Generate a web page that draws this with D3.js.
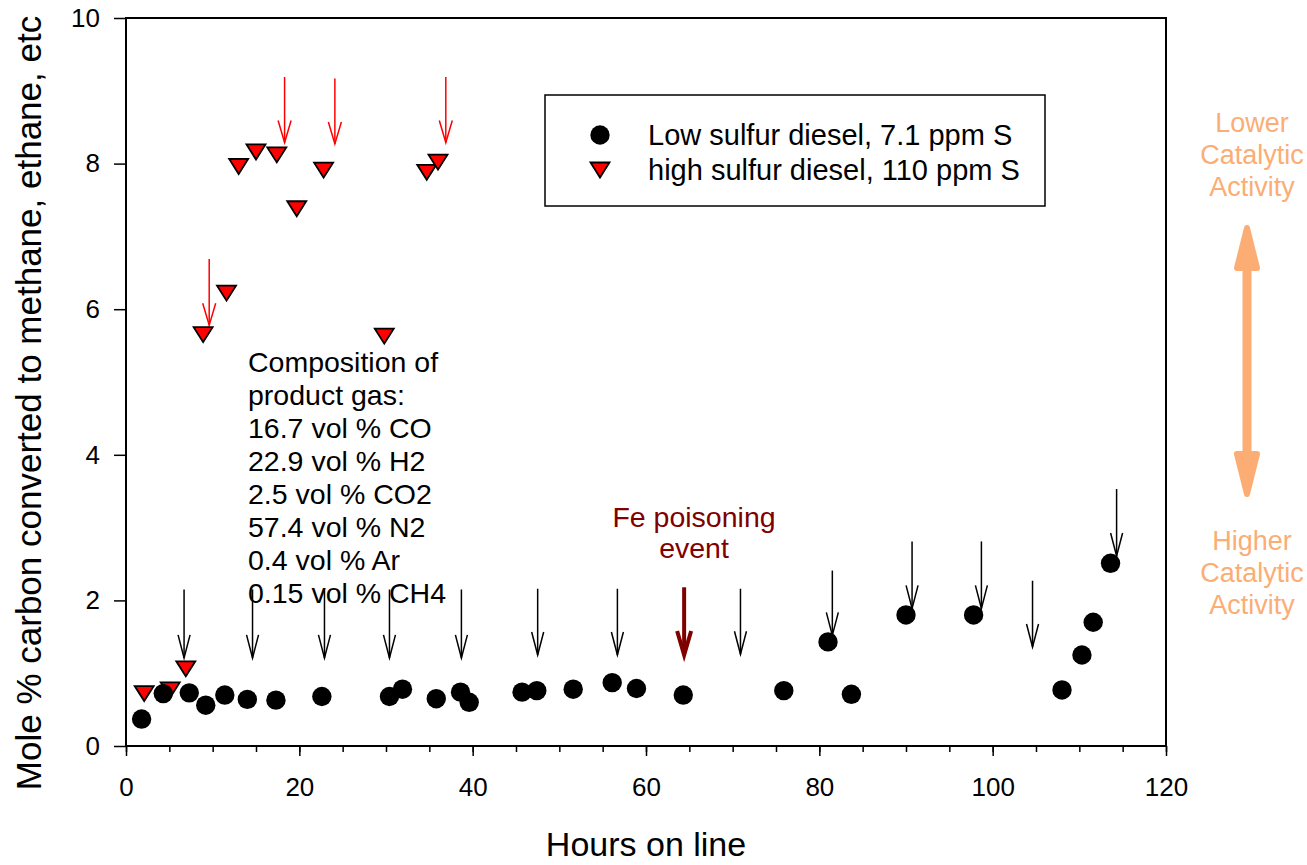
<!DOCTYPE html>
<html>
<head>
<meta charset="utf-8">
<script src="https://cdn.jsdelivr.net/npm/d3@7"></script>
<style>
  body { margin: 0; background: #fff; }
  svg { display: block; font-family: "Liberation Sans", Arial, sans-serif; }
</style>
</head>
<body>
<div id="chart"></div>
<script>
// low sulfur diesel (black circles)
const lowHours = [1.8, 4.3, 7.3, 9.2, 11.4, 14.0, 17.3, 22.6, 30.4, 31.9, 35.8, 38.6, 39.6, 45.7, 47.4, 51.6, 56.1, 58.9, 64.3, 75.9, 81.0, 83.7, 90.0, 97.8, 108.0, 110.3, 111.6, 113.6];
const lowValues = [0.37, 0.72, 0.73, 0.56, 0.70, 0.64, 0.63, 0.68, 0.68, 0.78, 0.65, 0.74, 0.60, 0.74, 0.76, 0.78, 0.87, 0.79, 0.70, 0.76, 1.43, 0.71, 1.80, 1.80, 0.77, 1.25, 1.70, 2.51];

// high sulfur diesel (red triangles)
const highHours = [2.1, 5.1, 6.9, 8.9, 11.6, 13.0, 15.0, 17.4, 19.7, 22.8, 29.8, 34.7, 36.0];
const highValues = [0.72, 0.77, 1.06, 5.65, 6.22, 7.96, 8.16, 8.12, 7.38, 7.91, 5.63, 7.88, 8.02];

// black arrows (hours, start value, tip value)
const blackArrowHours = [6.7, 14.6, 22.9, 30.4, 38.7, 47.5, 56.7, 70.9, 81.5, 90.7, 98.7, 104.6, 114.3];
const blackArrowTop = [2.15, 2.15, 2.15, 2.15, 2.15, 2.16, 2.16, 2.16, 2.41, 2.81, 2.81, 2.27, 3.53];
const blackArrowTip = [1.21, 1.21, 1.21, 1.21, 1.21, 1.25, 1.25, 1.26, 1.52, 1.89, 1.89, 1.36, 2.61];

// red arrows
const redArrowHours = [9.6, 18.3, 24.1, 36.9];
const redArrowTop = [6.69, 9.19, 9.17, 9.19];
const redArrowTip = [5.78, 8.29, 8.27, 8.29];

// Fe poisoning arrow
const feArrow = { hour: 64.4, top: 2.18, tip: 1.25 };

const xTicks = [0, 20, 40, 60, 80, 100, 120];
const yTicks = [0, 2, 4, 6, 8, 10];

const composition = ["Composition of", "product gas:", "16.7 vol % CO", "22.9 vol % H2",
  "2.5 vol % CO2", "57.4 vol % N2", "0.4 vol % Ar", "0.15 vol % CH4"];

const width = 1307, height = 865;
const plotLeft = 126, plotRight = 1166, plotTop = 18, plotBottom = 746;

const svg = d3.select("#chart").append("svg")
  .attr("width", width)
  .attr("height", height);

const x = d3.scaleLinear().domain([0, 120]).range([plotLeft, plotRight]);
const y = d3.scaleLinear().domain([0, 10]).range([plotBottom, plotTop]);

// minor x ticks
svg.append("g")
  .attr("transform", `translate(0,${plotBottom})`)
  .call(d3.axisBottom(x).tickValues(d3.range(0, 121, 5)).tickSize(6).tickFormat(""))
  .call(g => g.select(".domain").remove())
  .call(g => g.selectAll("line").attr("stroke-width", 1.5));

// major x ticks
svg.append("g")
  .attr("transform", `translate(0,${plotBottom})`)
  .call(d3.axisBottom(x).tickValues(xTicks).tickSize(10).tickPadding(22))
  .call(g => g.select(".domain").remove())
  .call(g => g.selectAll("line").attr("stroke-width", 1.5))
  .call(g => g.selectAll("text").attr("font-size", 26).attr("font-family", "Liberation Sans, Arial, sans-serif").attr("fill", "#000"));

// y axis
svg.append("g")
  .attr("transform", `translate(${plotLeft},0)`)
  .call(d3.axisLeft(y).tickValues(yTicks).tickSize(12).tickPadding(14))
  .call(g => g.select(".domain").remove())
  .call(g => g.selectAll("line").attr("stroke-width", 1.5))
  .call(g => g.selectAll("text").attr("font-size", 26).attr("font-family", "Liberation Sans, Arial, sans-serif").attr("fill", "#000"));

// frame
svg.append("rect")
  .attr("x", plotLeft).attr("y", plotTop)
  .attr("width", plotRight - plotLeft).attr("height", plotBottom - plotTop)
  .attr("fill", "none").attr("stroke", "#000").attr("stroke-width", 2);

// axis titles
svg.append("text")
  .attr("x", (plotLeft + plotRight) / 2).attr("y", 856)
  .attr("text-anchor", "middle").attr("font-size", 34)
  .text("Hours on line");

svg.append("text")
  .attr("transform", "translate(41,403) rotate(-90)")
  .attr("text-anchor", "middle").attr("font-size", 35)
  .text("Mole % carbon converted to methane, ethane, etc");

// arrow helper: thin line with open V head
function arrow(g, x0, y0, y1, color, sw, hw, hl) {
  g.append("line")
    .attr("x1", x0).attr("y1", y0).attr("x2", x0).attr("y2", y1)
    .attr("stroke", color).attr("stroke-width", sw);
  g.append("path")
    .attr("d", `M${x0 - hw},${y1 - hl}L${x0},${y1}L${x0 + hw},${y1 - hl}`)
    .attr("fill", "none").attr("stroke", color).attr("stroke-width", sw);
}

const arrows = svg.append("g");
blackArrowHours.forEach((h, i) => {
  arrow(arrows, x(h), y(blackArrowTop[i]), y(blackArrowTip[i]), "#000", 1.5, 6, 23);
});
redArrowHours.forEach((h, i) => {
  arrow(arrows, x(h), y(redArrowTop[i]), y(redArrowTip[i]), "#ff0000", 1.5, 6.5, 22);
});

// Fe poisoning arrow (thick, dark red)
const fx = x(feArrow.hour);
arrows.append("line")
  .attr("x1", fx).attr("y1", y(feArrow.top)).attr("x2", fx).attr("y2", y(feArrow.tip) - 4)
  .attr("stroke", "#800000").attr("stroke-width", 4);
arrows.append("path")
  .attr("d", `M${fx - 7},${y(feArrow.tip) - 24}L${fx},${y(feArrow.tip)}L${fx + 7},${y(feArrow.tip) - 24}`)
  .attr("fill", "none").attr("stroke", "#800000").attr("stroke-width", 4)
  .attr("stroke-linejoin", "miter");

// triangle marker path
const tri = "M-9.5,-7.5L9.5,-7.5L0,7.5Z";

// high sulfur
svg.append("g").selectAll("path")
  .data(highHours)
  .enter()
  .append("path")
  .attr("d", tri)
  .attr("transform", (d, i) => `translate(${x(d)},${y(highValues[i])})`)
  .attr("fill", "#ff0000")
  .attr("stroke", "#000")
  .attr("stroke-width", 1.8)
  .attr("stroke-linejoin", "miter");

// low sulfur
svg.append("g").selectAll("circle")
  .data(lowHours)
  .enter()
  .append("circle")
  .attr("cx", d => x(d))
  .attr("cy", (d, i) => y(lowValues[i]))
  .attr("r", 9.7)
  .attr("fill", "#000");

// legend
const legend = svg.append("g");
legend.append("rect")
  .attr("x", 545).attr("y", 95).attr("width", 500).attr("height", 111)
  .attr("fill", "#fff").attr("stroke", "#000").attr("stroke-width", 1.5);
legend.append("circle").attr("cx", 600).attr("cy", 135).attr("r", 9.7).attr("fill", "#000");
legend.append("path").attr("d", tri).attr("transform", "translate(600,170)")
  .attr("fill", "#ff0000").attr("stroke", "#000").attr("stroke-width", 1.8);
legend.append("text").attr("x", 648).attr("y", 145).attr("font-size", 29)
  .text("Low sulfur diesel, 7.1 ppm S");
legend.append("text").attr("x", 648).attr("y", 180).attr("font-size", 29)
  .text("high sulfur diesel, 110 ppm S");

// composition note
svg.append("g").selectAll("text")
  .data(composition)
  .enter()
  .append("text")
  .attr("x", 248)
  .attr("y", (d, i) => 372 + i * 33)
  .attr("font-size", 28.5)
  .text(d => d);

// Fe poisoning label
svg.append("text").attr("x", 694).attr("y", 527).attr("text-anchor", "middle")
  .attr("font-size", 28.5).attr("fill", "#800000").text("Fe poisoning");
svg.append("text").attr("x", 694).attr("y", 558).attr("text-anchor", "middle")
  .attr("font-size", 28.5).attr("fill", "#800000").text("event");

// catalytic activity annotation
const orange = "#fbad74";
const note = svg.append("g").attr("fill", orange).attr("font-size", 27).attr("text-anchor", "middle");
["Lower", "Catalytic", "Activity"].forEach((t, i) => {
  note.append("text").attr("x", 1252).attr("y", 132 + i * 32).text(t);
});
["Higher", "Catalytic", "Activity"].forEach((t, i) => {
  note.append("text").attr("x", 1252).attr("y", 550 + i * 32).text(t);
});

const ax = 1247, aTop = 228, aBot = 494;
svg.append("line")
  .attr("x1", ax).attr("y1", aTop + 20).attr("x2", ax).attr("y2", aBot - 20)
  .attr("stroke", orange).attr("stroke-width", 9);
svg.append("path")
  .attr("d", `M${ax},${aTop}L${ax - 10},${aTop + 40}L${ax + 10},${aTop + 40}Z`)
  .attr("fill", orange).attr("stroke", orange).attr("stroke-width", 6).attr("stroke-linejoin", "round");
svg.append("path")
  .attr("d", `M${ax},${aBot}L${ax - 10},${aBot - 40}L${ax + 10},${aBot - 40}Z`)
  .attr("fill", orange).attr("stroke", orange).attr("stroke-width", 6).attr("stroke-linejoin", "round");
</script>
</body>
</html>
